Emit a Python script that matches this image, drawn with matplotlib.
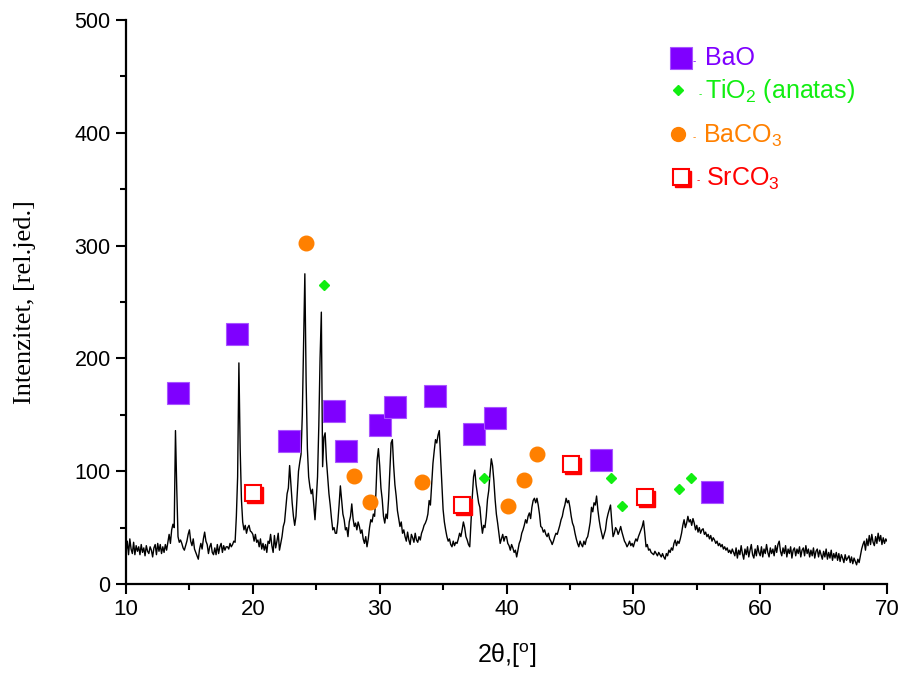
import numpy as np
import matplotlib
matplotlib.use('Agg')
import matplotlib.pyplot as plt
from matplotlib.ticker import MultipleLocator
from matplotlib.transforms import offset_copy

plt.rcParams['font.family'] = ['Liberation Sans', 'DejaVu Sans']
plt.rcParams['mathtext.fontset'] = 'custom'
plt.rcParams['mathtext.rm'] = 'Liberation Sans'
plt.rcParams['mathtext.it'] = 'Liberation Sans:italic'
plt.rcParams['mathtext.bf'] = 'Liberation Sans:bold'

NARROW = ['Liberation Sans Narrow', 'Liberation Sans']

# ── XRD trace, 2theta from 10 to 70 in 0.1 deg steps (one row per degree) ──
TWO_THETA_START = 10.0
TWO_THETA_STEP = 0.1
intensity_rows = [
    [28, 38, 26, 40, 31, 27, 37, 26, 34, 29],        # 10
    [33, 26, 35, 28, 32, 25, 34, 29, 27, 33],        # 11
    [30, 24, 32, 35, 26, 36, 29, 35, 27, 33],        # 12
    [28, 35, 30, 37, 44, 36, 48, 53, 50, 136],       # 13
    [85, 42, 37, 39, 36, 32, 30, 34, 38, 44],        # 14
    [48, 38, 34, 40, 31, 28, 25, 22, 31, 36],        # 15
    [31, 40, 46, 38, 35, 27, 33, 36, 28, 26],        # 16
    [32, 26, 35, 27, 33, 36, 28, 34, 30, 33],        # 17
    [33, 31, 36, 33, 35, 38, 37, 60, 95, 196],       # 18
    [120, 75, 55, 48, 52, 45, 50, 52, 47, 46],       # 19
    [44, 38, 44, 37, 39, 33, 40, 31, 36, 30],        # 20
    [35, 28, 38, 36, 44, 34, 28, 43, 32, 38],        # 21
    [45, 30, 36, 42, 51, 55, 68, 80, 85, 105],       # 22
    [88, 72, 60, 52, 60, 80, 100, 108, 115, 150],    # 23
    [210, 275, 180, 120, 95, 86, 80, 84, 70, 57],    # 24
    [75, 95, 140, 200, 241, 104, 130, 134, 110, 95], # 25
    [80, 70, 58, 48, 50, 45, 45, 55, 70, 87],        # 26
    [75, 62, 57, 48, 50, 42, 55, 60, 71, 58],        # 27
    [51, 54, 48, 55, 51, 45, 48, 40, 36, 42],        # 28
    [33, 40, 50, 57, 55, 62, 60, 80, 110, 120],      # 29
    [105, 85, 75, 60, 54, 62, 58, 75, 100, 125],     # 30
    [128, 105, 88, 78, 65, 58, 51, 55, 45, 48],      # 31
    [42, 38, 46, 39, 35, 44, 41, 37, 45, 39],        # 32
    [37, 42, 39, 45, 48, 52, 54, 57, 62, 74],        # 33
    [70, 88, 107, 118, 128, 125, 132, 136, 113, 90], # 34
    [66, 55, 48, 42, 38, 40, 35, 33, 38, 34],        # 35
    [37, 36, 40, 45, 42, 48, 55, 50, 42, 39],        # 36
    [35, 33, 55, 77, 95, 101, 88, 80, 72, 68],       # 37
    [55, 45, 52, 50, 60, 75, 83, 98, 111, 105],      # 38
    [92, 75, 62, 54, 45, 36, 40, 44, 38, 42],        # 39
    [42, 36, 34, 30, 35, 32, 28, 30, 24, 30],        # 40
    [36, 39, 45, 48, 52, 57, 54, 60, 63, 58],        # 41
    [68, 74, 76, 72, 76, 70, 62, 51, 50, 46],        # 42
    [48, 44, 42, 45, 40, 38, 35, 38, 42, 45],        # 43
    [44, 48, 52, 57, 60, 66, 70, 76, 72, 74],        # 44
    [68, 60, 54, 51, 45, 40, 36, 33, 38, 35],        # 45
    [33, 38, 35, 40, 42, 48, 55, 68, 64, 72],        # 46
    [70, 78, 66, 57, 50, 45, 40, 44, 48, 57],        # 47
    [62, 66, 70, 55, 42, 45, 50, 48, 44, 47],        # 48
    [51, 46, 42, 38, 36, 33, 35, 38, 34, 36],        # 49
    [33, 37, 40, 38, 42, 45, 48, 51, 56, 45],        # 50
    [33, 35, 30, 31, 28, 27, 26, 29, 27, 25],        # 51
    [28, 26, 24, 27, 24, 22, 27, 25, 30, 28],        # 52
    [32, 30, 36, 39, 34, 38, 36, 40, 45, 52],        # 53
    [57, 50, 54, 60, 55, 57, 52, 58, 54, 48],        # 54
    [52, 46, 50, 45, 48, 49, 44, 46, 42, 44],        # 55
    [40, 43, 38, 41, 39, 36, 38, 34, 36, 33],        # 56
    [35, 31, 33, 30, 32, 28, 30, 27, 31, 28],        # 57
    [25, 32, 23, 30, 26, 34, 27, 22, 31, 26],        # 58
    [33, 24, 30, 35, 26, 23, 31, 25, 34, 28],        # 59
    [25, 33, 24, 31, 27, 35, 28, 24, 32, 27],        # 60
    [31, 25, 34, 28, 35, 38, 29, 25, 32, 27],        # 61
    [34, 24, 31, 27, 33, 23, 30, 32, 25, 31],        # 62
    [27, 33, 24, 30, 32, 25, 34, 27, 31, 24],        # 63
    [30, 25, 32, 23, 29, 31, 24, 30, 26, 22],        # 64
    [29, 24, 31, 22, 28, 23, 30, 21, 27, 23],        # 65
    [28, 21, 27, 20, 26, 23, 19, 26, 21, 23],        # 66
    [25, 19, 24, 18, 23, 20, 17, 22, 19, 25],        # 67
    [31, 35, 38, 30, 40, 34, 43, 35, 44, 37],        # 68
    [34, 42, 36, 45, 38, 43, 35, 41, 36, 40],        # 69
    [38],                                            # 70
]
intensity = [v for row in intensity_rows for v in row]
two_theta = TWO_THETA_START + TWO_THETA_STEP * np.arange(len(intensity))

# ── phase markers ──
bao_x = [14.1, 18.75, 22.85, 26.4, 27.35, 30.0, 31.2, 34.4, 37.45, 39.1, 47.45, 56.2]
bao_y = [169, 222, 127, 153, 118, 141, 157, 167, 133, 147, 110, 82]

tio2_x = [25.6, 38.2, 48.2, 49.1, 53.6, 54.55]
tio2_y = [265, 94, 94, 69, 84, 94]

baco3_x = [24.2, 28.0, 29.25, 33.3, 40.15, 41.4, 42.4]
baco3_y = [302, 96, 73, 90, 69, 92, 115]

srco3_x = [20.0, 36.5, 45.05, 50.9]
srco3_y = [81, 70, 106, 77]

x_ticks = [10, 20, 30, 40, 50, 60, 70]
y_ticks = [0, 100, 200, 300, 400, 500]

PURPLE = '#7f00ff'
GREEN = '#11ee11'
ORANGE = '#ff8000'
RED = '#ff0000'


def main():
    fig = plt.figure(figsize=(9.02, 6.75), dpi=100)
    ax = fig.add_axes([0.1397, 0.1348, 0.8437, 0.8356])

    ax.plot(two_theta, intensity, color='black', lw=1.0, zorder=2)

    ax.plot(bao_x, bao_y, 's', ms=16, color=PURPLE, mec='#a855ff', mew=0.8,
            ls='none', zorder=3)
    ax.plot(tio2_x, tio2_y, 'D', ms=5.5, color=GREEN, ls='none', zorder=3)
    ax.plot(baco3_x, baco3_y, 'o', ms=10.5, color=ORANGE, ls='none', zorder=3)
    shadow = offset_copy(ax.transData, fig=fig, x=2, y=-2, units='dots')
    ax.plot(srco3_x, srco3_y, 's', ms=11, color=RED, ls='none',
            transform=shadow, zorder=3)
    ax.plot(srco3_x, srco3_y, 's', ms=11, mfc='white', mec=RED, mew=1.5,
            ls='none', zorder=4)

    # legend (drawn by hand to keep the coloured labels and dashes)
    t = ax.transAxes
    ax.plot([0.7293], [0.9332], 's', ms=16, color=PURPLE, mec='#a855ff',
            mew=0.8, transform=t, clip_on=False)
    ax.plot([0.7250], [0.8759], 'D', ms=5.5, color=GREEN, transform=t,
            clip_on=False)
    ax.plot([0.7258], [0.7979], 'o', ms=10, color=ORANGE, transform=t,
            clip_on=False)
    leg_shadow = offset_copy(t, fig=fig, x=2, y=-2, units='dots')
    ax.plot([0.7293], [0.7222], 's', ms=11, color=RED, transform=leg_shadow,
            clip_on=False)
    ax.plot([0.7293], [0.7222], 's', ms=11, mfc='white', mec=RED, mew=1.5,
            transform=t, clip_on=False)

    legend_entries = [
        (0.7464, 0.9273, 0.7608, 0.9202, 'BaO', PURPLE),
        (0.7543, 0.8688, 0.7608, 0.8612, 'TiO$_2$ (anatas)', GREEN),
        (0.7464, 0.7926, 0.7578, 0.7825, 'BaCO$_3$', ORANGE),
        (0.7516, 0.7163, 0.7622, 0.7057, 'SrCO$_3$', RED),
    ]
    for dx, dy, tx, ty, label, col in legend_entries:
        ax.text(dx, dy, '-', transform=t, fontsize=7, color=col,
                ha='center', va='center')
        ax.text(tx, ty, label, transform=t, fontsize=18, color=col,
                ha='left', va='baseline')

    ax.set_xlim(10, 70)
    ax.set_ylim(0, 500)
    ax.set_xticks(x_ticks)
    ax.set_xticklabels([str(v) for v in x_ticks], fontfamily=NARROW, fontsize=16)
    ax.set_yticks(y_ticks)
    ax.set_yticklabels([str(v) for v in y_ticks], fontsize=15.5)
    ax.xaxis.set_minor_locator(MultipleLocator(5))
    ax.yaxis.set_minor_locator(MultipleLocator(50))
    ax.tick_params(which='major', direction='out', length=7, width=1.5,
                   color='black', pad=4)
    ax.tick_params(which='minor', direction='out', length=4, width=1.5)

    for side in ['top', 'right']:
        ax.spines[side].set_visible(False)
    for side in ['left', 'bottom']:
        ax.spines[side].set_linewidth(1.6)

    ax.set_ylabel('Intenzitet, [rel.jed.]', fontfamily=['Liberation Serif'],
                  fontsize=19, labelpad=28)
    ax.set_xlabel('2θ,[$^{\\mathregular{o}}$]', fontfamily=NARROW, fontsize=18,
                  labelpad=15)

    fig.savefig('out.png', dpi=100)


if __name__ == '__main__':
    main()
